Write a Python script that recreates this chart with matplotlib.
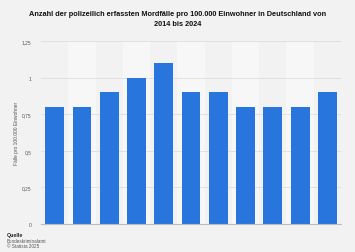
import matplotlib.pyplot as plt

jahre = ["2014", "2015", "2016", "2017", "2018", "2019", "2020", "2021", "2022", "2023", "2024"]
faelle = [0.8, 0.8, 0.9, 1.0, 1.1, 0.9, 0.9, 0.8, 0.8, 0.8, 0.9]
y_ticks = [0, 0.25, 0.5, 0.75, 1.0, 1.25]
y_labels = ["0", "0,25", "0,5", "0,75", "1", "1,25"]

plt.rcParams['font.family'] = ['Liberation Sans', 'DejaVu Sans']

fig = plt.figure(figsize=(3.55, 2.53), dpi=100, facecolor="#f2f2f2")
ax = fig.add_axes([41 / 355, 28 / 253, 300 / 355, 183 / 253])
ax.set_facecolor("#f2f2f2")

x = list(range(len(jahre)))
# abwechselnde Hintergrundstreifen
for i in x:
    if i % 2 == 1:
        ax.axvspan(i - 0.5, i + 0.5, color="#f7f7f7", zorder=0, lw=0)

ax.bar(x, faelle, width=0.69, color="#2876dd", zorder=3)

ax.set_xlim(-0.5, len(jahre) - 0.5)
ax.set_ylim(0, 1.25)
ax.set_yticks(y_ticks)
ax.set_yticklabels(y_labels, fontsize=3.5, color="#555555")
ax.set_xticks(x)
ax.set_xticklabels([])
ax.tick_params(axis="x", length=0)
ax.tick_params(axis="y", length=0, pad=7)
ax.grid(axis="y", color="#dddddd", lw=0.6, zorder=1)
for s in ["top", "right", "left"]:
    ax.spines[s].set_visible(False)
ax.spines["bottom"].set_color("#bbbbbb")
ax.spines["bottom"].set_linewidth(0.8)
ax.spines["bottom"].set_zorder(4)

ax.set_ylabel("Fälle pro 100.000 Einwohner", fontsize=3.5, color="#555555", labelpad=2)

fig.text(0.5, 234 / 253, "Anzahl der polizeilich erfassten Mordfälle pro 100.000 Einwohner in Deutschland von\n2014 bis 2024",
         ha="center", va="center", fontsize=5.3, fontweight="bold", linespacing=1.6, color="#111111")

fig.text(7 / 355, 17 / 253, "Quelle", fontsize=3.8, fontweight="bold", color="#222222", va="center")
fig.text(7 / 355, 11.5 / 253, "Bundeskriminalamt", fontsize=3.3, color="#555555", va="center")
fig.text(7 / 355, 6 / 253, "© Statista 2025", fontsize=3.3, color="#555555", va="center")

fig.savefig("out.png", dpi=100, facecolor=fig.get_facecolor())
